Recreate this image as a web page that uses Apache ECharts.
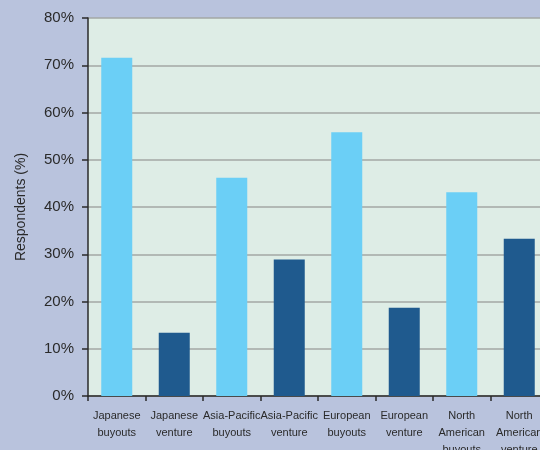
<!DOCTYPE html>
<html>
<head>
<meta charset="utf-8">
<script src="https://cdn.jsdelivr.net/npm/echarts@6/dist/echarts.min.js"></script>
<style>
html,body{margin:0;padding:0;background:#b9c3dd;}
#c{width:540px;height:450px;}
</style>
</head>
<body>
<div id="c"></div>
<script>
const categories = ["Japanese\nbuyouts","Japanese\nventure","Asia-Pacific\nbuyouts","Asia-Pacific\nventure","European\nbuyouts","European\nventure","North\nAmerican\nbuyouts","North\nAmerican\nventure"];
const values = [71.6, 13.4, 46.2, 28.9, 55.8, 18.7, 43.1, 33.3];
const barColors = ["#6bcff6","#1f5a8e","#6bcff6","#1f5a8e","#6bcff6","#1f5a8e","#6bcff6","#1f5a8e"];
const yTicks = {min:0, max:80, interval:10};

const font = '"Liberation Sans", sans-serif';
const chart = echarts.init(document.getElementById('c'));
chart.setOption({
  backgroundColor: '#b9c3dd',
  animation: false,
  grid: {
    left: 88, top: 18, width: 460, height: 378,
    show: true, backgroundColor: '#deede6', borderWidth: 0,
    containLabel: false, outerBoundsMode: 'none'
  },
  xAxis: {
    type: 'category',
    data: categories,
    axisLine: {lineStyle: {color: '#2a2a2a', width: 1.5}},
    axisTick: {show: true, length: 5, lineStyle: {color: '#2a2a2a', width: 1.5}},
    axisLabel: {color: '#2a2a2a', fontFamily: font, fontSize: 11, lineHeight: 17, margin: 11, interval: 0}
  },
  yAxis: {
    type: 'value',
    min: yTicks.min, max: yTicks.max, interval: yTicks.interval,
    name: 'Respondents (%)',
    nameLocation: 'middle',
    nameGap: 60,
    nameTextStyle: {color: '#2a2a2a', fontFamily: font, fontSize: 14},
    axisLine: {show: true, lineStyle: {color: '#2a2a2a', width: 1.5}},
    axisTick: {show: true, length: 6, lineStyle: {color: '#2a2a2a', width: 1.5}},
    axisLabel: {color: '#2a2a2a', fontFamily: font, fontSize: 15, margin: 14, formatter: '{value}%'},
    splitLine: {show: true, lineStyle: {color: '#a3a7a5', width: 1.5}}
  },
  series: [{
    type: 'bar',
    data: values.map((v, i) => ({value: v, itemStyle: {color: barColors[i]}})),
    barWidth: 31
  }]
});
</script>
</body>
</html>
